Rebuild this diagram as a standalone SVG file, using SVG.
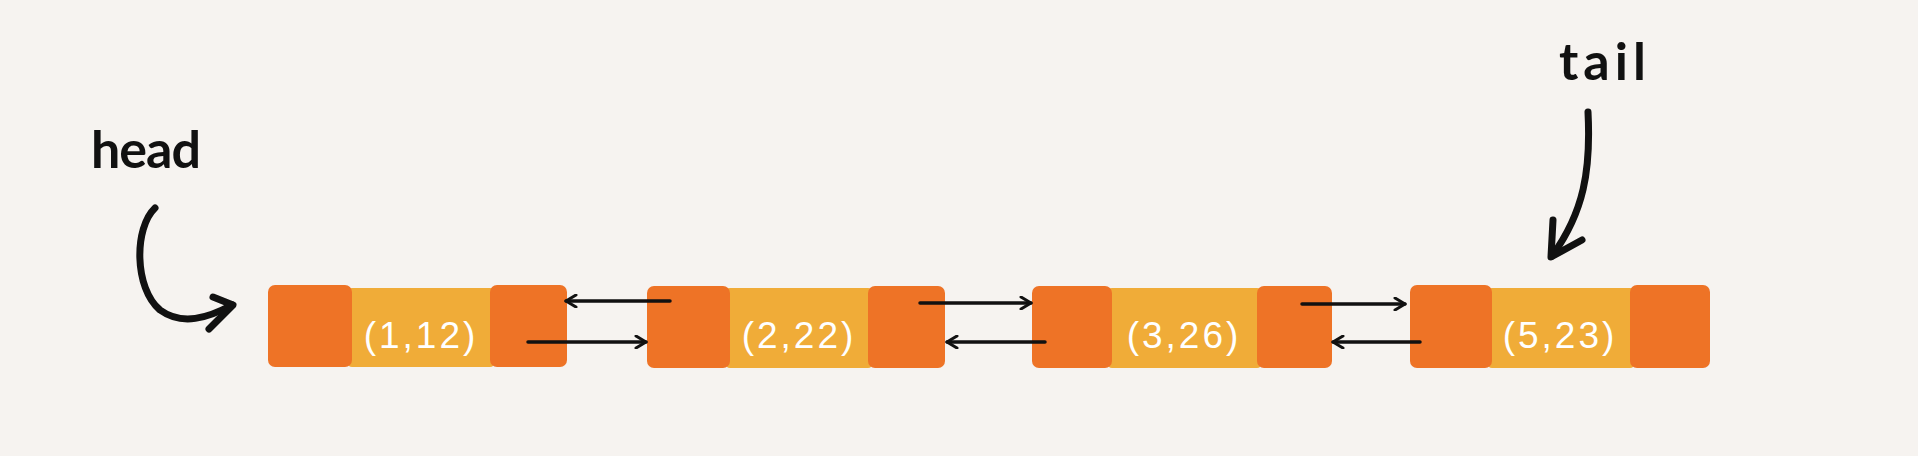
<svg xmlns="http://www.w3.org/2000/svg" width="1918" height="456" viewBox="0 0 1918 456">
<style>
.sq{fill:#ee7326}
.mid{fill:#f0ac38}
.val{font-family:"Liberation Sans",sans-serif;font-size:37px;fill:#ffffff;text-anchor:middle;letter-spacing:3px}
.lbl{font-family:"Lato","Liberation Sans",sans-serif;font-weight:bold;font-size:52px;fill:#111111}
.ln{fill:none;stroke:#111111;stroke-width:3.5;stroke-linecap:round;stroke-linejoin:round}
.hand{fill:none;stroke:#111111;stroke-width:7;stroke-linecap:round;stroke-linejoin:round}
</style>
<defs>
<marker id="ah" viewBox="0 0 14 14" refX="12" refY="7" markerWidth="14" markerHeight="14" markerUnits="userSpaceOnUse" orient="auto">
<path d="M2,1 L12,7 L2,13" fill="none" stroke="#111111" stroke-width="3" stroke-linecap="round" stroke-linejoin="round"/>
</marker>
</defs>
<rect width="1918" height="456" fill="#f6f3f0"/>

<g id="head">
<text class="lbl" x="91" y="168" letter-spacing="-1">head</text>
<path class="hand" d="M155,208 C134,228 134,288 160,310 C182,326 208,318 232,305"/>
<path class="hand" d="M213,297 L233,305 L209,329"/>
</g>

<g id="tail">
<text class="lbl" x="1559" y="80" letter-spacing="5">tail</text>
<path class="hand" d="M1588,112 C1591,170 1584,212 1552,256"/>
<path class="hand" d="M1553,220 L1551,257 L1582,240"/>
</g>

<g id="node1">
<rect class="mid" x="348" y="288" width="146" height="79" rx="4"/>
<rect class="sq" x="268" y="285" width="84" height="82" rx="7"/>
<rect class="sq" x="490" y="285" width="77" height="82" rx="7"/>
<text class="val" x="421" y="348">(1,12)</text>
</g>

<g id="node2">
<rect class="mid" x="726" y="288" width="146" height="80" rx="4"/>
<rect class="sq" x="647" y="286" width="83" height="82" rx="7"/>
<rect class="sq" x="868" y="286" width="77" height="82" rx="7"/>
<text class="val" x="799" y="348">(2,22)</text>
</g>

<g id="node3">
<rect class="mid" x="1108" y="288" width="153" height="80" rx="4"/>
<rect class="sq" x="1032" y="286" width="80" height="82" rx="7"/>
<rect class="sq" x="1257" y="286" width="75" height="82" rx="7"/>
<text class="val" x="1184" y="348">(3,26)</text>
</g>

<g id="node4">
<rect class="mid" x="1488" y="288" width="146" height="80" rx="4"/>
<rect class="sq" x="1410" y="285" width="82" height="83" rx="7"/>
<rect class="sq" x="1630" y="285" width="80" height="83" rx="7"/>
<text class="val" x="1560" y="348">(5,23)</text>
</g>

<g id="connectors">
<line class="ln" x1="670" y1="301" x2="566" y2="301" marker-end="url(#ah)"/>
<line class="ln" x1="528" y1="342" x2="646" y2="342" marker-end="url(#ah)"/>
<line class="ln" x1="920" y1="303" x2="1031" y2="303" marker-end="url(#ah)"/>
<line class="ln" x1="1045" y1="342" x2="947" y2="342" marker-end="url(#ah)"/>
<line class="ln" x1="1302" y1="304" x2="1405" y2="304" marker-end="url(#ah)"/>
<line class="ln" x1="1420" y1="342" x2="1333" y2="342" marker-end="url(#ah)"/>
</g>
</svg>
